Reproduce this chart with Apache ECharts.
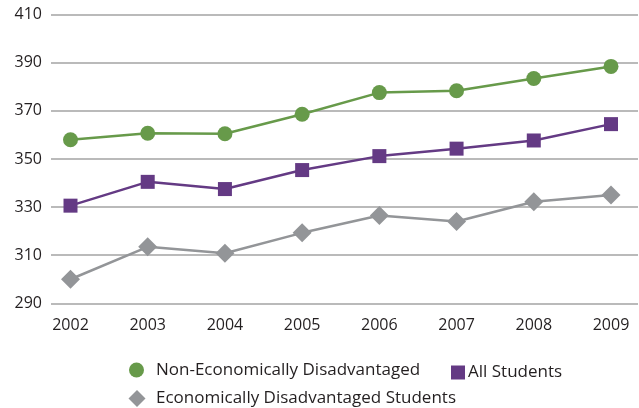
<!DOCTYPE html>
<html>
<head>
<meta charset="utf-8">
<script src="https://cdn.jsdelivr.net/npm/echarts@6/dist/echarts.min.js"></script>
<style>
  html, body { margin: 0; padding: 0; background: #fff; }
  #chart { width: 639px; height: 408px; }
</style>
</head>
<body>
<div id="chart"></div>
<script>
// Years on the horizontal axis
const years = ['2002', '2003', '2004', '2005', '2006', '2007', '2008', '2009'];

// Average scale scores by student group
const nonEconDisadv = [358, 360.7, 360.5, 368.6, 377.6, 378.4, 383.5, 388.5];
const allStudents = [330.6, 340.5, 337.5, 345.4, 351.2, 354.3, 357.7, 364.5];
const econDisadv = [300, 313.5, 310.8, 319.3, 326.5, 324, 332.2, 335];

// Value axis range and step
const yMin = 290;
const yMax = 410;
const yStep = 20;

const names = {
  non: 'Non-Economically Disadvantaged',
  all: 'All Students',
  econ: 'Economically Disadvantaged Students'
};

const colors = { non: '#679a4a', all: '#643a84', econ: '#939598' };
const fontFamily = '"Open Sans", "Noto Sans", sans-serif';
const textColor = '#231f20';

const chart = echarts.init(document.getElementById('chart'));

function legendText(padTop, padLeft, h) {
  return { fontFamily, fontSize: 17, color: textColor, lineHeight: h, padding: [padTop, 0, 0, padLeft] };
}

chart.setOption({
  animation: false,
  backgroundColor: '#fff',
  grid: [
    // background grid: y labels and horizontal gridlines across full width
    { left: 51, right: 1, top: 14.7, bottom: 104.7, containLabel: false },
    // data grid: categories placed at the line ends
    { left: 70.5, right: 28, top: 14.7, bottom: 104.7, containLabel: false }
  ],
  xAxis: [
    { gridIndex: 0, type: 'category', data: years, show: false },
    {
      gridIndex: 1, type: 'category', data: years, boundaryGap: false,
      axisLine: { show: false }, axisTick: { show: false },
      axisLabel: { fontFamily, fontSize: 16, color: textColor, margin: 14 },
      splitLine: { show: false }
    }
  ],
  yAxis: [
    {
      gridIndex: 0, type: 'value', min: yMin, max: yMax, interval: yStep,
      axisLine: { show: false }, axisTick: { show: false },
      axisLabel: { fontFamily, fontSize: 16, color: textColor, margin: 9 },
      splitLine: { lineStyle: { color: '#a3a3a3', width: 1.5 } }
    },
    {
      gridIndex: 1, type: 'value', min: yMin, max: yMax, interval: yStep,
      show: false, splitLine: { show: false }
    }
  ],
  legend: [
    {
      data: [{ name: names.non, icon: 'circle' }],
      left: 129, top: 359.5, padding: 0, itemWidth: 15, itemHeight: 15, itemGap: 0,
      textStyle: legendText(6, 7, 15)
    },
    {
      data: [{ name: names.all, icon: 'rect' }],
      left: 451, top: 364, padding: 0, itemWidth: 14, itemHeight: 14, itemGap: 0,
      textStyle: legendText(2, -2, 14)
    },
    {
      data: [{ name: names.econ, icon: 'diamond' }],
      left: 128.5, top: 388.5, padding: 0, itemWidth: 17, itemHeight: 17, itemGap: 0,
      textStyle: legendText(3, 5.5, 17)
    }
  ],
  series: [
    {
      name: names.econ, type: 'line', xAxisIndex: 1, yAxisIndex: 1,
      data: econDisadv, symbol: 'diamond', symbolSize: 19,
      itemStyle: { color: colors.econ }, lineStyle: { color: colors.econ, width: 2.5 }
    },
    {
      name: names.all, type: 'line', xAxisIndex: 1, yAxisIndex: 1,
      data: allStudents, symbol: 'rect', symbolSize: 14,
      itemStyle: { color: colors.all }, lineStyle: { color: colors.all, width: 2.5 }
    },
    {
      name: names.non, type: 'line', xAxisIndex: 1, yAxisIndex: 1,
      data: nonEconDisadv, symbol: 'circle', symbolSize: 15,
      itemStyle: { color: colors.non }, lineStyle: { color: colors.non, width: 2.5 }
    }
  ]
});
</script>
</body>
</html>
